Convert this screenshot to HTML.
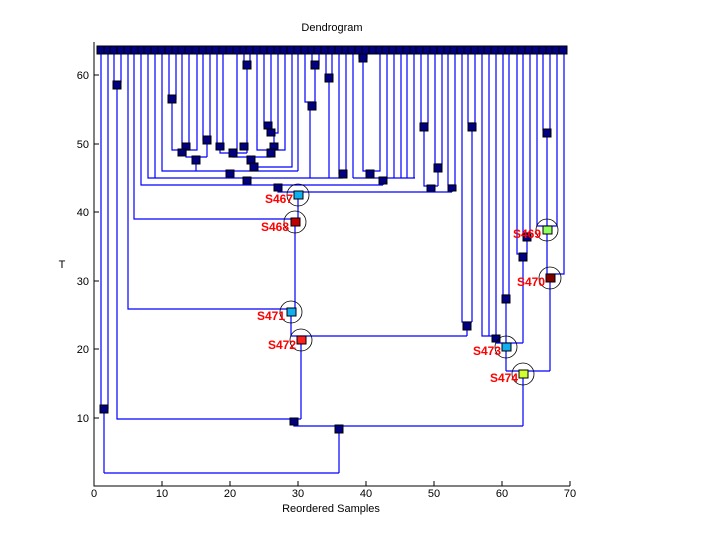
<!DOCTYPE html>
<html><head><style>
body{margin:0;background:#fff}
svg{display:block}
text{font-family:"Liberation Sans",sans-serif}
</style></head><body>
<svg width="720" height="540" viewBox="0 0 720 540" xmlns="http://www.w3.org/2000/svg">
<rect width="720" height="540" fill="#fff"/>
<text x="332" y="31" font-size="11" text-anchor="middle">Dendrogram</text>
<text x="331" y="512" font-size="11" text-anchor="middle">Reordered Samples</text>
<text x="62" y="268" font-size="11" text-anchor="middle">T</text>
<path d="M94 42V486H570" fill="none" stroke="#000" stroke-width="1"/>
<g stroke="#000" stroke-width="1">
<path d="M162 486v-5M230 486v-5M298 486v-5M366 486v-5M434 486v-5M502 486v-5M570 486v-5"/>
<path d="M94 418h5M94 349h5M94 281h5M94 212h5M94 144h5M94 75h5"/>
</g>
<g font-size="11" text-anchor="middle">
<text x="94" y="497">0</text><text x="162" y="497">10</text><text x="230" y="497">20</text><text x="298" y="497">30</text><text x="366" y="497">40</text><text x="434" y="497">50</text><text x="502" y="497">60</text><text x="570" y="497">70</text>
</g>
<g font-size="11" text-anchor="end">
<text x="89" y="422">10</text><text x="89" y="353">20</text><text x="89" y="285">30</text><text x="89" y="216">40</text><text x="89" y="148">50</text><text x="89" y="79">60</text>
</g>
<path fill="none" stroke="#0000ff" stroke-width="1.2" d="
M101 50V409 M108 50V409 M101 409H108 M104 409V473 M104 473H339 M339 426V473
M114 50V82H121V50 M117 82V419H301
M128 50V309H295 M134 50V219H298 M141 50V185H383 M148 50V178H343 M353 178H415 M155 50V178 M162 50V171H298
M169 50V99H176V50 M172 99V150H197V50
M182 50V147H189V50 M186 147V157H207 M207 157V140 M203 50V140H210V50 M196 157V171
M217 50V147H223V50 M220 147V153H247 M237 50V153 M244 50V65H250V50 M247 65V153 M233 153V157H271 M251 157V167H292V50
M257 50V150H285V50 M264 50V126H271V50 M268 126V133H278V50 M274 133V150 M271 150V157
M254 167V171 M298 50V171
M230 171V178 M247 178V185 M278 185V192H452
M298 192V219 M295 219V309 M291 309V336H467 M301 336V419 M294 419V426H523
M312 50V65H319V50 M315 65V102 M305 50V102H315 M310 102V178
M326 50V78H332V50 M329 78V178 M339 50V174H346V50 M343 174V178
M359 50V58H367V50 M363 58V171H380V50 M370 171V178 M353 50V178 M387 50V178 M394 50V178 M401 50V178 M407 50V178 M414 50V178 M383 178V185
M421 50V123H428V50 M424 123V186H438 M435 50V164H442V50 M438 164V186 M431 186V192 M448 50V185H455V50 M452 185V192
M462 50V322H472 M468 50V123H475V50 M472 123V322 M467 322V336
M482 50V336H496 M489 50V336 M496 50V343H523 M503 50V295H509V50 M506 295V371
M517 50V254H527 M523 50V233H530V50 M527 233V254 M523 254V343
M543 50V130H550V50 M547 130V226 M537 50V226H557V50 M547 226V274H564V50 M550 274V371 M506 371H550 M523 371V426
"/>
<g fill="#000080" stroke="#000" stroke-width="1">
<rect x="97" y="46" width="8" height="8"/><rect x="104" y="46" width="8" height="8"/><rect x="110" y="46" width="8" height="8"/><rect x="117" y="46" width="8" height="8"/><rect x="124" y="46" width="8" height="8"/><rect x="131" y="46" width="8" height="8"/><rect x="138" y="46" width="8" height="8"/><rect x="144" y="46" width="8" height="8"/><rect x="151" y="46" width="8" height="8"/><rect x="158" y="46" width="8" height="8"/><rect x="165" y="46" width="8" height="8"/><rect x="172" y="46" width="8" height="8"/><rect x="178" y="46" width="8" height="8"/><rect x="185" y="46" width="8" height="8"/><rect x="192" y="46" width="8" height="8"/><rect x="199" y="46" width="8" height="8"/><rect x="206" y="46" width="8" height="8"/><rect x="212" y="46" width="8" height="8"/><rect x="219" y="46" width="8" height="8"/><rect x="226" y="46" width="8" height="8"/><rect x="233" y="46" width="8" height="8"/><rect x="240" y="46" width="8" height="8"/><rect x="246" y="46" width="8" height="8"/><rect x="253" y="46" width="8" height="8"/><rect x="260" y="46" width="8" height="8"/><rect x="267" y="46" width="8" height="8"/><rect x="274" y="46" width="8" height="8"/><rect x="280" y="46" width="8" height="8"/><rect x="287" y="46" width="8" height="8"/><rect x="294" y="46" width="8" height="8"/><rect x="301" y="46" width="8" height="8"/><rect x="308" y="46" width="8" height="8"/><rect x="314" y="46" width="8" height="8"/><rect x="321" y="46" width="8" height="8"/><rect x="328" y="46" width="8" height="8"/><rect x="335" y="46" width="8" height="8"/><rect x="342" y="46" width="8" height="8"/><rect x="348" y="46" width="8" height="8"/><rect x="355" y="46" width="8" height="8"/><rect x="362" y="46" width="8" height="8"/><rect x="369" y="46" width="8" height="8"/><rect x="376" y="46" width="8" height="8"/><rect x="382" y="46" width="8" height="8"/><rect x="389" y="46" width="8" height="8"/><rect x="396" y="46" width="8" height="8"/><rect x="403" y="46" width="8" height="8"/><rect x="410" y="46" width="8" height="8"/><rect x="416" y="46" width="8" height="8"/><rect x="423" y="46" width="8" height="8"/><rect x="430" y="46" width="8" height="8"/><rect x="437" y="46" width="8" height="8"/><rect x="444" y="46" width="8" height="8"/><rect x="450" y="46" width="8" height="8"/><rect x="457" y="46" width="8" height="8"/><rect x="464" y="46" width="8" height="8"/><rect x="471" y="46" width="8" height="8"/><rect x="478" y="46" width="8" height="8"/><rect x="484" y="46" width="8" height="8"/><rect x="491" y="46" width="8" height="8"/><rect x="498" y="46" width="8" height="8"/><rect x="505" y="46" width="8" height="8"/><rect x="512" y="46" width="8" height="8"/><rect x="518" y="46" width="8" height="8"/><rect x="525" y="46" width="8" height="8"/><rect x="532" y="46" width="8" height="8"/><rect x="539" y="46" width="8" height="8"/><rect x="546" y="46" width="8" height="8"/><rect x="552" y="46" width="8" height="8"/><rect x="559" y="46" width="8" height="8"/>
</g>
<g fill="#000080" stroke="#000" stroke-width="1">
<rect x="100" y="405" width="8" height="8"/><rect x="113" y="81" width="8" height="8"/><rect x="335" y="425" width="8" height="8"/><rect x="290" y="418" width="8" height="7"/>
<rect x="168" y="95" width="8" height="8"/><rect x="182" y="143" width="8" height="7"/><rect x="178" y="149" width="8" height="7"/><rect x="192" y="156" width="8" height="8"/><rect x="203" y="136" width="8" height="8"/><rect x="216" y="143" width="8" height="7"/><rect x="229" y="149" width="8" height="8"/><rect x="243" y="61" width="8" height="8"/><rect x="240" y="143" width="8" height="7"/><rect x="247" y="156" width="8" height="8"/><rect x="250" y="163" width="8" height="8"/><rect x="264" y="122" width="8" height="7"/><rect x="267" y="129" width="8" height="7"/><rect x="270" y="143" width="8" height="7"/><rect x="267" y="149" width="8" height="8"/><rect x="226" y="170" width="8" height="7"/><rect x="243" y="177" width="8" height="7"/><rect x="274" y="184" width="8" height="7"/>
<rect x="311" y="61" width="8" height="8"/><rect x="308" y="102" width="8" height="8"/><rect x="325" y="74" width="8" height="8"/><rect x="339" y="170" width="8" height="8"/><rect x="359" y="54" width="8" height="8"/><rect x="366" y="170" width="8" height="8"/><rect x="379" y="177" width="8" height="7"/><rect x="420" y="123" width="8" height="8"/><rect x="434" y="164" width="8" height="8"/><rect x="427" y="185" width="8" height="6"/><rect x="448" y="185" width="8" height="6"/>
<rect x="468" y="123" width="8" height="8"/><rect x="463" y="322" width="8" height="8"/><rect x="492" y="335" width="8" height="7"/><rect x="502" y="295" width="8" height="8"/><rect x="519" y="253" width="8" height="8"/><rect x="523" y="233" width="8" height="8"/><rect x="543" y="129" width="8" height="8"/>
</g>
<g fill="none" stroke="#000" stroke-width="0.8">
<circle cx="298" cy="195" r="11"/><circle cx="295" cy="222" r="11"/><circle cx="291" cy="312" r="11"/><circle cx="301" cy="340" r="11"/>
<circle cx="547" cy="230" r="11"/><circle cx="550" cy="278" r="11"/><circle cx="506" cy="347" r="11"/><circle cx="523" cy="374" r="11"/>
</g>
<g stroke="#000" stroke-width="1">
<rect x="294" y="191" width="9" height="8" fill="#10b0f0"/>
<rect x="291" y="218" width="9" height="8" fill="#c00000"/>
<rect x="287" y="308" width="9" height="8" fill="#10b0f0"/>
<rect x="297" y="336" width="9" height="8" fill="#ff2020"/>
<rect x="543" y="226" width="9" height="8" fill="#90ff60"/>
<rect x="546" y="274" width="9" height="8" fill="#800000"/>
<rect x="502" y="343" width="9" height="8" fill="#10b0f0"/>
<rect x="519" y="370" width="9" height="8" fill="#d0ff30"/>
</g>
<g fill="#ff0000" font-size="12" font-weight="bold">
<text x="265" y="203">S467</text>
<text x="261" y="231">S468</text>
<text x="257" y="320">S471</text>
<text x="268" y="349">S472</text>
<text x="513" y="238">S469</text>
<text x="517" y="286">S470</text>
<text x="473" y="355">S473</text>
<text x="490" y="382">S474</text>
</g>
</svg>
</body></html>
